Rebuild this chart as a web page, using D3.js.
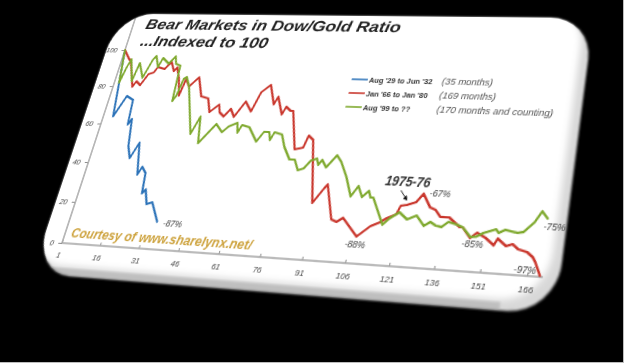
<!DOCTYPE html>
<html><head><meta charset="utf-8">
<script src="https://cdn.jsdelivr.net/npm/d3@7/dist/d3.min.js"></script>
<style>
html,body{margin:0;padding:0;background:#000;width:624px;height:363px;overflow:hidden}
#flat{position:absolute;left:0;top:0;width:620px;height:330px;transform-origin:0 0;filter:blur(0.45px)}
#flat svg{overflow:visible;display:block}
#frame{position:absolute;left:0;top:0}
text{font-family:"Liberation Sans",Arial,sans-serif}
</style></head><body>
<div id="flat"></div>
<svg id="frame" width="624" height="363"></svg>
<script>
// ---------- data (month number, index value) ----------
const titleLines = ["Bear Markets in Dow/Gold Ratio", "...Indexed to 100"];
const xTickLabels = [1,16,31,46,61,76,91,106,121,136,151,166];
const yTickLabels = [0,20,40,60,80,100];
const seriesNames = ["Aug '29 to Jun '32","Jan '66 to Jan '80","Aug '99 to ??"];
const seriesNotes = ["(35 months)","(169 months)","(170 months and counting)"];
const blueMonths = [1,5,8,11,12,13,15,17,19,22,23,25,26,27,29,31,35];
const blueValues = [100,64,75,73,60,63,49,43,51,35,39,36,26,28,21,22,13];
const redMonths = [1,4,5,9,10,12,14,16,17,20,22,24,25,27,29,30,32,35,38,41,43,46,47,49,51,53,56,59,61,64,67,68,71,72,74,75,79,82,83,85,90,93,94,98,100,102,105,108,112,115,117,120,121,123,126,128,131,133,135,138,142,143,146,148,151,154,155,158,160,162,165,167,168,170];
const redValues = [100,95,94,80,83,81,87,88,91,90,94,89,91,85,76,85,81,86,76,75,68,72,68,66,70,66,74,69,79,83,73,77,68,72,70,70,51,52,58,56,26,33,35,19,18,20,16,12,17,19,21,23,27,27.5,29,33,27,26,23,23,19,19,14.5,17,15,12,15,12,13,11,10,8,6,0.5];
const greenMonths = [1,3,4,5,8,9,12,14,15,17,18,21,23,24,26,27,28,29,30,32,38,40,42,45,47,50,52,55,56,57,60,64,66,68,69,70,73,75,78,80,82,84,86,88,89,90,92,93,95,97,100,103,105,107,109,110,111,116,118,121,124,127,130,132,134,136,138,141,143,146,148,150,154,155,157,161,163,166,168,170];
const greenValues = [100,82,90,95,83,93,85,95,97,91,96,93,97,93,92,73,76,85,86,81,56.5,65.5,52,58,62,58,61,63,58,62,61,54,59,59,55,59,58,52,46,46,41,42,46,47,44,46.5,43,45,49,46,39,30,35,30,33,30,30,18,21,24,21,23,18.6,20.5,19,18.6,21,20,19,15,15.3,17,19,17.5,19,18,18.6,23,28,25];
const endLabels = [
  {t:"-87%",x:37.5,v:11},{t:"-88%",x:104.5,v:7},{t:"-67%",x:130,v:32},
  {t:"-85%",x:143.5,v:10.5},{t:"-97%",x:161.5,v:1},{t:"-75%",x:169,v:20}
];
const credit = "Courtesy of www.sharelynx.net/";
const callout = "1975-76";
const colors = ["#2b72b8","#c9362c","#7fa92e"];

// ---------- flat chart space ----------
const W=620,H=330,OX=60,OY=260,PW=465,PH=200;
const x=d3.scaleLinear().domain([1,166]).range([OX,OX+PW]);
const y=d3.scaleLinear().domain([0,100]).range([OY,OY-PH]);

const svg=d3.select("#flat").append("svg").attr("width",W).attr("height",H);
const defs=svg.append("defs");
defs.append("filter").attr("id","soft").attr("x","-10%").attr("y","-10%").attr("width","120%").attr("height","120%")
  .append("feGaussianBlur").attr("stdDeviation",3.2);
defs.append("filter").attr("id","edgeBlur").attr("x","-5%").attr("y","-5%").attr("width","110%").attr("height","110%")
  .append("feGaussianBlur").attr("stdDeviation",0.9);
const card={x:38,y:19,w:516,h:271,r:42};
defs.append("clipPath").attr("id","cardClip").append("rect")
  .attr("x",card.x).attr("y",card.y).attr("width",card.w).attr("height",card.h).attr("rx",card.r);
svg.append("rect").attr("x",card.x).attr("y",card.y).attr("width",card.w).attr("height",card.h)
  .attr("rx",card.r).attr("fill","#d8d8d8").attr("filter","url(#edgeBlur)");
const cg=svg.append("g").attr("clip-path","url(#cardClip)");
cg.append("rect").attr("x",card.x-14).attr("y",card.y-14).attr("width",card.w+14-9).attr("height",card.h+14-9)
  .attr("rx",card.r).attr("fill","#fff").attr("filter","url(#soft)");
cg.append("rect").attr("x",card.x+1).attr("y",card.h+card.y-7).attr("width",card.w-50).attr("height",7)
  .attr("fill","#a9a9a9").attr("opacity",0.55).attr("filter","url(#edgeBlur)");

// axes
const axX=svg.append("g").attr("transform",`translate(0,${OY})`)
  .call(d3.axisBottom(x).tickValues(xTickLabels).tickSizeInner(-3).tickSizeOuter(0).tickPadding(8).tickFormat(d3.format("d")));
const axY=svg.append("g").attr("transform",`translate(${OX},0)`)
  .call(d3.axisLeft(y).tickValues(yTickLabels).tickSizeInner(4).tickSizeOuter(0).tickPadding(5));
[axX,axY].forEach(a=>{
  a.selectAll("path").remove();
  a.selectAll("line").attr("stroke","#8d8d8d").attr("stroke-width",1);
  a.selectAll("text").attr("fill","#444").attr("font-size",8).attr("font-style","italic")
    .attr("font-family",'"Liberation Sans",Arial,sans-serif');
});
svg.append("line").attr("x1",x(1)).attr("x2",x(171)).attr("y1",OY).attr("y2",OY).attr("stroke","#a5a5a5").attr("stroke-width",1.6);
svg.append("line").attr("x1",OX).attr("x2",OX).attr("y1",y(0)).attr("y2",y(118)).attr("stroke","#a5a5a5").attr("stroke-width",1.6);

// lines
const line=d3.line().x(d=>x(d[0])).y(d=>y(d[1]));
[[blueMonths,blueValues],[redMonths,redValues],[greenMonths,greenValues]].forEach((s,i)=>{
  const pts=s[0].map((m,j)=>[m,s[1][j]]);
  svg.append("path").attr("d",line(pts)).attr("fill","none").attr("stroke",colors[i])
    .attr("stroke-width",2.2).attr("stroke-linejoin","round").attr("stroke-linecap","round");
});

// title (the photographed sheet stretches it sideways)
titleLines.forEach((t,i)=>svg.append("text").text(t)
  .attr("transform",`translate(${x(6.5)},${y(112-i*9.5)}) scale(1.18,1)`)
  .attr("font-size",16).attr("font-weight","bold").attr("font-style","italic").attr("fill","#222"));

// legend
seriesNames.forEach((n,i)=>{
  const ly=y(87-i*7);
  svg.append("line").attr("x1",x(94)).attr("x2",x(100)).attr("y1",ly).attr("y2",ly).attr("stroke",colors[i]).attr("stroke-width",1.6);
  svg.append("text").text(n).attr("x",x(100.5)).attr("y",ly+3).attr("font-size",7.7).attr("font-weight","bold").attr("fill","#333");
  svg.append("text").text(seriesNotes[i]).attr("x",x(127)).attr("y",ly+3).attr("font-size",9.5).attr("font-style","italic").attr("fill","#555");
});

// annotations
endLabels.forEach(d=>svg.append("text").text(d.t).attr("x",x(d.x)).attr("y",y(d.v))
  .attr("font-size",8.6).attr("fill","#3c3c3c").attr("font-style","italic"));
svg.append("text").text(credit).attr("x",x(3.5)).attr("y",y(3)).attr("font-size",12.8)
  .attr("font-style","italic").attr("font-weight","bold").attr("fill","#cda23c");
svg.append("text").text(callout).attr("x",x(114)).attr("y",y(36)).attr("font-size",12)
  .attr("font-style","italic").attr("font-weight","bold").attr("fill","#333");
const ax0=x(120),ay0=y(34),ax1=x(122.5),ay1=y(30);
svg.append("line").attr("x1",ax0).attr("y1",ay0).attr("x2",ax1).attr("y2",ay1).attr("stroke","#222").attr("stroke-width",1);
svg.append("path").attr("d",`M${ax1+1},${ay1+1}L${ax1-3.5},${ay1-0.5}L${ax1-0.5},${ay1-4}Z`).attr("fill","#111");

// ---------- perspective of the sheet ----------
const Q=[[62,243],[527,276],[558,58],[125,50]]; // origin, right, top-right, top-left
function persp(Q){
  const [[x0,y0],[x1,y1],[x2,y2],[x3,y3]]=Q;
  const dx1=x1-x2,dx2=x3-x2,dx3=x0-x1+x2-x3,dy1=y1-y2,dy2=y3-y2,dy3=y0-y1+y2-y3;
  const den=dx1*dy2-dx2*dy1;
  const g=(dx3*dy2-dx2*dy3)/den,h=(dx1*dy3-dx3*dy1)/den;
  const a=x1-x0+g*x1,b=x3-x0+h*x3,c=x0,d=y1-y0+g*y1,e=y3-y0+h*y3,f=y0;
  const su=1/PW,tu=-OX/PW,sv=-1/PH,tv=OY/PH;
  return [a*su,d*su,0,g*su, b*sv,e*sv,0,h*sv, 0,0,1,0, a*tu+b*tv+c,d*tu+e*tv+f,0,g*tu+h*tv+1];
}
d3.select("#flat").style("transform",`matrix3d(${persp(Q).join(",")})`);

// image frame hairlines
const fr=d3.select("#frame");
fr.append("line").attr("x1",0).attr("x2",624).attr("y1",362.5).attr("y2",362.5).attr("stroke","#bdbdbd");
fr.append("line").attr("x1",623.5).attr("x2",623.5).attr("y1",0).attr("y2",363).attr("stroke","#bdbdbd");
</script></body></html>
